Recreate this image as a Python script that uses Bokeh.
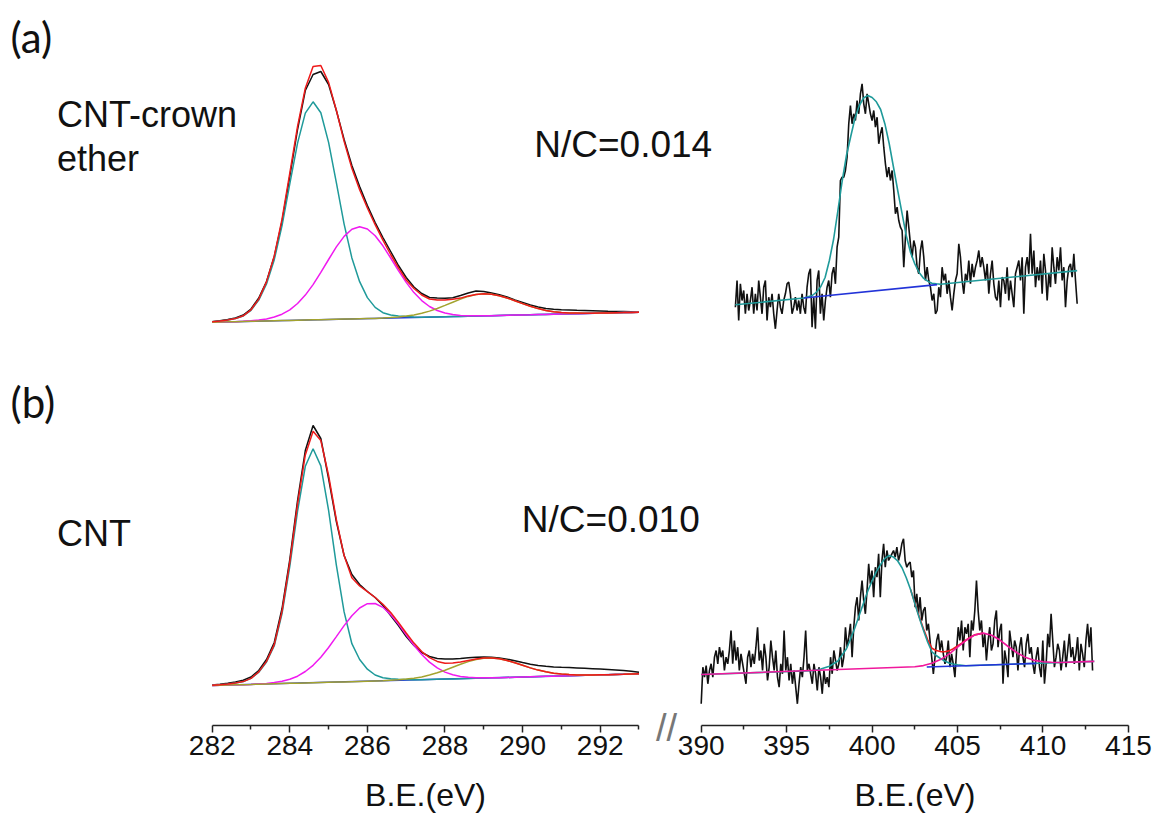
from bokeh.plotting import figure
from bokeh.models import Range1d, LinearAxis, FixedTicker, Label, Grid
from bokeh.embed import file_html
from bokeh.resources import INLINE
import numpy as np

# ---------------- C1s (left) : common energy grid, 0.2 eV ----------------
C_E = [282.0, 282.2, 282.4, 282.6, 282.8, 283.0, 283.2, 283.4, 283.6, 283.8,
       284.0, 284.2, 284.4, 284.6, 284.8, 285.0, 285.2, 285.4, 285.6, 285.8,
       286.0, 286.2, 286.4, 286.6, 286.8, 287.0, 287.2, 287.4, 287.6, 287.8,
       288.0, 288.2, 288.4, 288.6, 288.8, 289.0, 289.2, 289.4, 289.6, 289.8,
       290.0, 290.2, 290.4, 290.6, 290.8, 291.0, 291.2, 291.4, 291.6, 291.8,
       292.0, 292.2, 292.4, 292.6, 292.8, 293.0]

# (a) CNT-crown ether, C1s
A_C_DATA = [0.8, 1.8, 3.0, 4.6, 7.5, 13.5, 24.5, 41, 66, 101,
            146, 193, 232, 248, 251, 238, 212, 183, 157, 136,
            117, 100, 85, 71, 57, 45, 35.5, 29, 25, 24.5,
            24.2, 24.8, 27, 29.5, 31.5, 31, 29.5, 27.8, 25.5, 22.5,
            20, 17.5, 15.5, 14, 13.2, 12.8, 12.5, 12.2, 12.0, 11.8,
            11.6, 11.3, 11.1, 10.9, 10.7, 10.4]
A_C_FIT = [0.8, 1.5, 2.5, 3.9, 6.7, 12.7, 23.4, 40.6, 66.5, 103.3,
           149.3, 196.1, 234.3, 255.9, 257.0, 240.1, 212.2, 181.1, 154.2, 132.8,
           114.5, 97.8, 82.4, 68.0, 54.6, 42.6, 34.0, 27.5, 23.5, 22.5,
           22.5, 23.3, 24.4, 26.6, 28.1, 28.7, 28.3, 26.8, 24.5, 21.8,
           18.9, 16.2, 13.9, 12.1, 10.8, 10.0, 9.6, 9.4, 9.2, 9.2,
           9.4, 9.6, 9.8, 9.9, 10.1, 10.3]
A_C_P1 = [0.8, 1.5, 2.5, 3.9, 6.5, 12.2, 22.4, 38.6, 62.8, 96.9,
          138.7, 179.4, 209.4, 220.7, 209.8, 180.1, 139.8, 98.4, 64.6, 40.8,
          24.9, 15.1, 9.8, 7.5, 6.5, 5.9, 5.5, 5.2, 5.39, 5.57,
          5.75, 5.94, 6.12, 6.3, 6.48, 6.66, 6.85, 7.03, 7.21, 7.39,
          7.57, 7.75, 7.94, 8.12, 8.3, 8.48, 8.66, 8.85, 9.03, 9.21,
          9.39, 9.57, 9.75, 9.94, 10.12, 10.3]
A_C_P2 = [0.3, 0.48, 0.66, 0.85, 1.2, 1.7, 2.4, 3.6, 5.5, 8.3,
          12.7, 19.0, 27.4, 37.9, 50.1, 63.0, 75.6, 86.1, 93.2, 95.8,
          93.5, 86.8, 76.7, 64.5, 51.9, 40.1, 29.9, 21.9, 16.0, 12.0,
          9.5, 7.9, 7.1, 6.8, 6.7, 6.66, 6.85, 7.03, 7.21, 7.39,
          7.57, 7.75, 7.94, 8.12, 8.3, 8.48, 8.66, 8.85, 9.03, 9.21,
          9.39, 9.57, 9.75, 9.94, 10.12, 10.3]
A_C_P3 = [0.3, 0.48, 0.66, 0.85, 1.03, 1.21, 1.39, 1.57, 1.75, 1.94,
          2.12, 2.3, 2.48, 2.66, 2.85, 3.03, 3.21, 3.39, 3.57, 3.75,
          3.94, 4.12, 4.5, 5.0, 5.6, 6.4, 7.5, 9.2, 11.4, 14.0,
          17.1, 20.3, 23.4, 26.1, 27.9, 28.7, 28.3, 26.8, 24.5, 21.8,
          18.9, 16.2, 13.9, 12.1, 10.8, 10.0, 9.6, 9.4, 9.2, 9.21,
          9.39, 9.57, 9.75, 9.94, 10.12, 10.3]
A_C_BG_E = [282.0, 293.0]
A_C_BG = [0.3, 10.3]

# (b) CNT, C1s
B_C_DATA = [1.5, 2.3, 3.3, 4.5, 6.2, 9.5, 16, 27, 44, 78,
            127, 186, 236, 261, 248, 208, 165, 131, 112, 102,
            95, 89, 81, 71, 61, 50, 41, 34, 30, 28,
            27.5, 27.5, 28, 28.8, 29.3, 29.5, 29.2, 28.5, 27.3, 25.8,
            24, 22.3, 21, 20.2, 19.6, 19.2, 18.9, 18.6, 18.2, 17.8,
            17.4, 17, 16.5, 15.9, 15.2, 14.3]
B_C_FIT = [1.3, 1.8, 2.5, 3.4, 4.9, 8.1, 14.6, 25.1, 41.9, 75.2,
           124.2, 182.3, 231.6, 255.2, 245.9, 211.0, 166.9, 130.9, 108.8, 100.5,
           94.8, 89.0, 82.2, 74.0, 64.1, 53.5, 43.4, 34.9, 28.9, 25.1,
           23.3, 23.4, 24.5, 26.1, 27.6, 28.6, 28.6, 27.7, 26.0, 23.7,
           21.2, 18.6, 16.4, 14.7, 13.3, 12.4, 11.9, 11.6, 11.5, 11.42,
           11.64, 11.85, 12.06, 12.27, 12.49, 12.7]
B_C_P1 = [1.3, 1.8, 2.5, 3.4, 4.9, 8.1, 14.3, 24.5, 40.7, 72.9,
          120.1, 175.3, 220.2, 237.8, 220.6, 176.2, 121.4, 74.6, 42.8, 27.0,
          17.3, 11.5, 8.7, 7.7, 7.2, 6.9, 6.8, 6.74, 6.96, 7.17,
          7.38, 7.59, 7.81, 8.02, 8.23, 8.44, 8.66, 8.87, 9.08, 9.3,
          9.51, 9.72, 9.93, 10.15, 10.36, 10.57, 10.78, 11.0, 11.21, 11.42,
          11.64, 11.85, 12.06, 12.27, 12.49, 12.7]
B_C_P2 = [1.0, 1.21, 1.43, 1.64, 1.85, 2.06, 2.6, 3.1, 3.9, 5.2,
          7.2, 10.3, 15.0, 21.2, 29.3, 39.0, 49.9, 60.9, 70.8, 78.5,
          82.8, 83.0, 79.2, 71.9, 62.4, 51.8, 41.3, 32.0, 24.4, 18.6,
          14.4, 11.7, 10.1, 9.2, 8.8, 8.7, 8.66, 8.87, 9.08, 9.3,
          9.51, 9.72, 9.93, 10.15, 10.36, 10.57, 10.78, 11.0, 11.21, 11.42,
          11.64, 11.85, 12.06, 12.27, 12.49, 12.7]
B_C_P3 = [1.0, 1.21, 1.43, 1.64, 1.85, 2.06, 2.28, 2.49, 2.7, 2.91,
          3.13, 3.34, 3.55, 3.77, 3.98, 4.19, 4.4, 4.62, 4.83, 5.04,
          5.25, 5.47, 5.68, 6.2, 6.7, 7.4, 8.3, 9.6, 11.5, 13.7,
          16.3, 19.3, 22.2, 24.9, 27.0, 28.3, 28.6, 27.7, 26.0, 23.7,
          21.2, 18.6, 16.4, 14.7, 13.3, 12.4, 11.9, 11.6, 11.5, 11.42,
          11.64, 11.85, 12.06, 12.27, 12.49, 12.7]
B_C_BG_E = [282.0, 293.0]
B_C_BG = [1.0, 12.7]

# ---------------- N1s (right) ----------------
# (a) raw counts, 392.0 -> 412.0 eV
A_N_START, A_N_END = 392.0, 412.0
A_N_DATA = [
    28.3, 55, 15, 51.7, 35, 45, 21.7, 41.7, 25, 35,
    48.3, 21.7, 41.7, 25, 55, 38.3, 21.7, 48.3, 55, 15,
    38.3, 28.3, 41.7, 21.7, 6.7, 25, 41.7, 28.3, 21.7, 35,
    41.7, 51.7, 53.3, 41.7, 21.7, 28.3, 38.3, 25, 35, 21.7,
    41.7, 28.3, 21.7, 48.3, 61.7, 66.7, 8.3, 38.3, 6.7, 55,
    65, 21.7, 41.7, 15, 35, 48.3, 55, 38.3, 61.7, 68.3,
    51.7, 88.3, 98.3, 155, 158.3, 158.3, 165, 178.3, 211.7, 230,
    211.7, 221.7, 215, 235, 221.7, 241.7, 251.7, 231.7, 221.7, 241.7,
    231.7, 221.7, 215, 225, 208.3, 218.3, 191.7, 201.7, 208.3, 188.3,
    171.7, 158.3, 168.3, 155, 165, 145, 121.7, 128.3, 115, 108.3,
    105, 68.3, 98.3, 125, 108.3, 91.7, 78.3, 95, 88.3, 68.3,
    61.7, 85, 95, 78.3, 55, 68.3, 55, 48.3, 35, 41.7,
    21.7, 25, 48.3, 38.3, 68.3, 55, 61.7, 41.7, 55, 38.3,
    25, 41.7, 55, 61.7, 91.7, 78.3, 55, 41.7, 61.7, 55,
    75, 51.7, 71.7, 58.3, 68.3, 75, 85, 68.3, 78.3, 68.3,
    55, 71.7, 41.7, 61.7, 75, 51.7, 38.3, 35, 55, 28.3,
    58.3, 55, 41.7, 68.3, 35, 55, 41.7, 28.3, 61.7, 68.3,
    75, 55, 78.3, 21.7, 68.3, 78.3, 61.7, 101.7, 61.7, 85,
    48.3, 68.3, 55, 75, 41.7, 81.7, 65, 35, 61.7, 48.3,
    88.3, 68.3, 51.7, 78.3, 65, 88.3, 55, 68.3, 28.3, 55,
    68.3, 71.7, 58.3, 81.7, 55, 31.7]
A_N_FIT_E = [392.0, 396.0, 396.5, 396.75, 397.0, 397.25, 397.5, 397.75, 398.0, 398.25,
             398.5, 398.75, 399.0, 399.25, 399.5, 399.75, 400.0, 400.25, 400.5, 400.75,
             401.0, 401.25, 401.5, 401.75, 402.0, 402.25, 402.5, 402.75, 403.0, 403.25,
             403.5, 403.75, 404.0, 412.0]
A_N_FIT = [30.7, 37.5, 40.0, 43.5, 49.0, 58.0, 75.0, 96.5, 125.0, 154.5,
           180.0, 199.0, 217.5, 230.0, 237.5, 240.0, 238.0, 233.7, 226.0, 211.6,
           192.0, 168.5, 145.0, 122.3, 99.7, 83.0, 71.6, 63.0, 57.4, 54.4,
           52.3, 51.7, 51.2, 64.9]
A_N_BG_E = [396.0, 403.8]
A_N_BG = [37.5, 50.9]

# (b) raw counts, 390.0 -> 412.9 eV
B_N_START, B_N_END = 390.0, 412.9
B_N_DATA = [
    6.7, 43.3, 33.3, 45, 26.7, 40, 46.7, 33.3, 53.3, 60,
    46.7, 63.3, 53.3, 60, 40, 53.3, 46.7, 60, 80, 46.7,
    70, 50, 63.3, 40, 56.7, 46.7, 36.7, 26.7, 53.3, 60,
    43.3, 56.7, 46.7, 63.3, 83.3, 50, 60, 40, 66.7, 53.3,
    30, 43.3, 70, 53.3, 40, 60, 33.3, 23.3, 46.7, 36.7,
    80, 40, 53.3, 30, 46.7, 26.7, 40, 23.3, 6.7, 26.7,
    43.3, 33.3, 53.3, 80, 40, 46.7, 36.7, 26.7, 46.7, 36.7,
    20, 43.3, 33.3, 16.7, 40, 26.7, 33.3, 23.3, 53.3, 36.7,
    60, 50, 40, 46.7, 63.3, 43.3, 53.3, 83.3, 63.3, 73.3,
    86.7, 53.3, 83.3, 103.3, 113.3, 90, 113.3, 130, 110, 96.7,
    120, 146.7, 126.7, 140, 113.3, 143.3, 133.3, 156.7, 113.3, 150,
    166.7, 143.3, 160, 150, 153.3, 156.7,
    160, 153.3, 163.3, 150, 156.7, 166.7, 171.7, 150, 143.3, 146.7,
    148.3, 133.3, 140, 103.3, 116.7, 96.7, 113.3, 90, 100, 103.3,
    80, 86.7, 70, 53.3, 36.7, 53.3, 70, 76.7, 60, 70,
    56.7, 46.7, 53.3, 70, 43.3, 56.7, 46.7, 33.3, 60, 83.3,
    70, 90, 60, 83.3, 76.7, 86.7, 53.3, 90, 80, 100,
    130, 100, 80, 90, 63.3, 76.7, 50, 70, 83.3, 60,
    66.7, 90, 100, 63.3, 80, 86.7, 26.7, 60, 50, 33.3,
    80, 66.7, 53.3, 70, 63.3, 40, 63.3, 73.3, 53.3, 43.3,
    66.7, 76.7, 56.7, 63.3, 46.7, 36.7, 53.3, 63.3, 43.3, 33.3,
    70, 26.7, 46.7, 76.7, 63.3, 96.7, 70, 43.3, 53.3, 66.7,
    60, 40, 53.3, 70, 43.3, 60, 76.7, 53.3, 63.3, 46.7,
    56.7, 73.3, 40, 66.7, 56.7, 43.3, 70, 86.7, 63.3, 83.3,
    40]
B_N_P1_E = [390.0, 396.5, 397.0, 397.5, 398.0, 398.5, 398.75, 399.0, 399.25, 399.5,
            399.75, 400.0, 400.25, 400.5, 400.75, 401.0, 401.25, 401.5, 401.75, 402.0,
            402.25, 402.5, 402.75, 403.0, 403.25, 403.5, 403.75, 404.0, 404.25, 404.5,
            404.75, 405.0, 405.5, 413.0]
B_N_P1 = [36.0, 39.7, 41.5, 44.3, 49.5, 61.8, 72.0, 83.0, 95.3, 107.4,
          119.5, 129.7, 138.8, 146.0, 152.1, 155.0, 153.4, 149.5, 142.7, 132.8,
          121.0, 107.1, 93.3, 80.4, 68.5, 58.7, 55.0, 52.0, 49.5, 47.5,
          46.5, 45.8, 44.8, 49.1]
B_N_P2_E = [390.0, 402.5, 403.0, 403.5, 404.0, 404.5, 405.0, 405.5, 406.0, 406.5,
            407.0, 407.5, 408.0, 408.5, 409.0, 409.5, 410.0, 410.5, 411.0, 413.0]
B_N_P2 = [36.0, 43.7, 44.9, 47.2, 50.9, 56.4, 63.3, 70.2, 75.5, 77.4,
          75.3, 70.2, 63.5, 57.5, 52.9, 50.1, 48.7, 48.2, 48.0, 49.1]
B_N_FIT_E = [402.25, 402.5, 402.75, 403.0, 403.25, 403.5, 403.75, 404.0, 404.25, 404.5,
             404.75, 405.0, 405.25, 405.5, 405.75, 406.0, 406.5]
B_N_FIT = [121.0, 107.7, 94.3, 81.9, 70.9, 62.2, 60.0, 58.9, 58.8, 59.6,
           61.8, 64.5, 67.3, 70.5, 73.2, 75.6, 77.4]
B_N_BG_E = [403.2, 409.6]
B_N_BG = [43.5, 47.1]

C_TICKS = [282, 284, 286, 288, 290, 292]
C_MINOR = [283, 285, 287, 289, 291, 293]
N_TICKS = [390, 395, 400, 405, 410, 415]
N_MINOR = [392.5, 397.5, 402.5, 407.5, 412.5]

# ---------------- figure ----------------
BLACK = "#111111"
RED = "#ee1a1a"
TEAL = "#1f9a9a"
MAG = "#f01af0"
OLIVE = "#a3a32e"
BLUE = "#2233d8"
PINK = "#f0189c"

p = figure(width=1155, height=816, output_backend="svg", toolbar_location=None,
           x_range=Range1d(276.544, 306.312), y_range=Range1d(-130, 686),
           x_axis_location=None, y_axis_location=None, min_border=0,
           outline_line_color=None, background_fill_color="white",
           border_fill_color="white")
p.extra_x_ranges = {"n": Range1d(349.0, 416.583)}
p.extra_y_ranges = {"a": Range1d(-494, 322), "an": Range1d(-481, 335),
                    "bn": Range1d(-106, 710)}
for r in list(p.center):
    if isinstance(r, Grid):
        r.visible = False

# left (a)
p.line(C_E, A_C_DATA, y_range_name="a", line_color=BLACK, line_width=1.5)
p.line(A_C_BG_E, A_C_BG, y_range_name="a", line_color=BLUE, line_width=1.5)
p.line(C_E, A_C_P1, y_range_name="a", line_color=TEAL, line_width=1.5)
p.line(C_E, A_C_P2, y_range_name="a", line_color=MAG, line_width=1.5)
p.line(C_E, A_C_P3, y_range_name="a", line_color=OLIVE, line_width=1.5)
p.line(C_E, A_C_FIT, y_range_name="a", line_color=RED, line_width=1.5)
# left (b)
p.line(C_E, B_C_DATA, line_color=BLACK, line_width=1.5)
p.line(B_C_BG_E, B_C_BG, line_color=BLUE, line_width=1.5)
p.line(C_E, B_C_P1, line_color=TEAL, line_width=1.5)
p.line(C_E, B_C_P2, line_color=MAG, line_width=1.5)
p.line(C_E, B_C_P3, line_color=OLIVE, line_width=1.5)
p.line(C_E, B_C_FIT, line_color=RED, line_width=1.5)
# right (a)
a_n_e = np.linspace(A_N_START, A_N_END, len(A_N_DATA))
p.line(a_n_e, A_N_DATA, x_range_name="n", y_range_name="an", line_color=BLACK, line_width=1.6)
p.line(A_N_FIT_E, A_N_FIT, x_range_name="n", y_range_name="an", line_color=TEAL, line_width=1.6)
p.line(A_N_BG_E, A_N_BG, x_range_name="n", y_range_name="an", line_color=BLUE, line_width=1.6)
# right (b)
b_n_e = np.linspace(B_N_START, B_N_END, len(B_N_DATA))
p.line(b_n_e, B_N_DATA, x_range_name="n", y_range_name="bn", line_color=BLACK, line_width=1.6)
p.line(B_N_FIT_E, B_N_FIT, x_range_name="n", y_range_name="bn", line_color=RED, line_width=1.6)
p.line(B_N_P1_E, B_N_P1, x_range_name="n", y_range_name="bn", line_color=TEAL, line_width=1.6)
p.line(B_N_BG_E, B_N_BG, x_range_name="n", y_range_name="bn", line_color=BLUE, line_width=1.6)
p.line(B_N_P2_E, B_N_P2, x_range_name="n", y_range_name="bn", line_color=PINK, line_width=1.6)

def style_axis(ax):
    ax.axis_line_color = "#222222"
    ax.axis_line_width = 1.5
    ax.major_tick_line_color = "#222222"
    ax.major_tick_line_width = 1.5
    ax.minor_tick_line_color = "#222222"
    ax.minor_tick_line_width = 1.5
    ax.major_tick_in = 0
    ax.major_tick_out = 7
    ax.minor_tick_in = 0
    ax.minor_tick_out = 4
    ax.major_label_text_font = "Liberation Sans"
    ax.major_label_text_font_size = "28px"
    ax.major_label_text_color = "#111111"
    ax.major_label_standoff = 3
    ax.axis_label = "B.E.(eV)"
    ax.axis_label_text_font = "Liberation Sans"
    ax.axis_label_text_font_size = "32px"
    ax.axis_label_text_font_style = "normal"
    ax.axis_label_text_color = "#111111"
    ax.axis_label_standoff = 19

ax_c = LinearAxis(ticker=FixedTicker(ticks=C_TICKS, minor_ticks=C_MINOR),
                  bounds=(282, 293), fixed_location=-39)
style_axis(ax_c)
p.add_layout(ax_c, "below")
ax_n = LinearAxis(x_range_name="n", ticker=FixedTicker(ticks=N_TICKS, minor_ticks=N_MINOR),
                  bounds=(390, 415), fixed_location=-39)
style_axis(ax_n)
p.add_layout(ax_n, "below")

# texts
def add_label(x, y, text, size, font="Liberation Sans", xr="default", yr="default",
              color="#111111", align="left", baseline="alphabetic"):
    p.add_layout(Label(x=x, y=y, text=text, x_range_name=xr, y_range_name=yr,
                       text_font=font, text_font_size=size, text_color=color,
                       text_align=align, text_baseline=baseline))

add_label(276.80, 286, "(a)", "42px", font="Lato", yr="a")
add_label(278.0, 208.5, "CNT-crown", "36px", yr="a")
add_label(278.0, 164.5, "ether", "36px", yr="a")
add_label(290.3, 178.5, "N/C=0.014", "37px", yr="a")
add_label(276.80, 285, "(b)", "42px", font="Lato")
add_label(278.0, 153.5, "CNT", "36px")
add_label(289.98, 167.5, "N/C=0.010", "37px")
add_label(387.97, -41, "//", "38px", xr="n", color="#777777", align="center", baseline="middle")

open("out.html", "w").write(file_html(p, INLINE))
